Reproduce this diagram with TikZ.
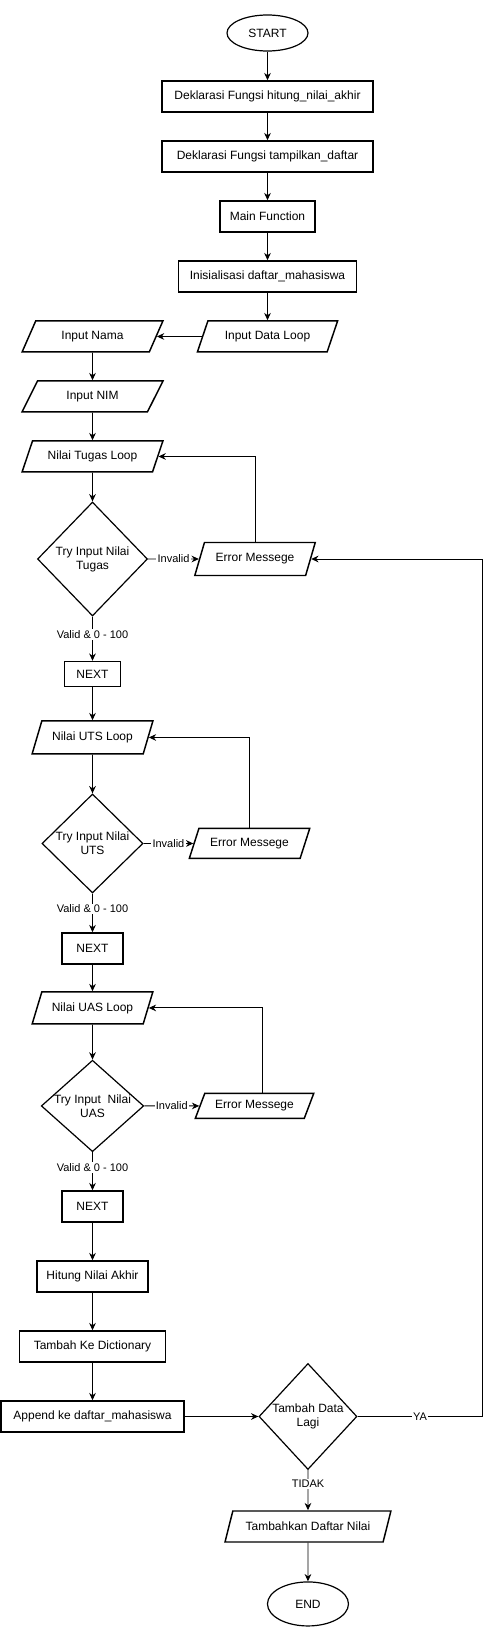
\documentclass[tikz,border=0pt]{standalone}
\usepackage{fontspec}
\setmainfont{Liberation Sans}
\usetikzlibrary{positioning,shapes.geometric,arrows.meta}
\tikzstyle{proc}=[draw, rectangle, line width=1.1pt, inner sep=2pt, minimum height=23.25pt, font=\fontsize{9}{11}\selectfont]
\tikzstyle{io}=[draw, trapezium, trapezium left angle=60, trapezium right angle=120, trapezium stretches=true, line width=1.1pt, inner sep=1pt, minimum height=23.25pt, font=\fontsize{9}{11}\selectfont]
\tikzstyle{cond}=[draw, diamond, line width=0.9pt, inner sep=0pt, align=center, font=\fontsize{9}{10.5}\selectfont]
\tikzstyle{term}=[draw, ellipse, line width=0.9pt, minimum width=60.75pt, minimum height=27pt, font=\fontsize{9}{11}\selectfont]
\tikzstyle{lab}=[fill=white, inner sep=1pt, font=\fontsize{8.25}{9}\selectfont]

\begin{document}
\begin{tikzpicture}[x=0.75pt,y=-0.75pt,>={Stealth[length=5.5pt,width=5pt]},line width=0.7pt]
\useasboundingbox (0,0) rectangle (491,1627);

\node[term] at (267.5,33) (start) {START};
\node[proc, below of = start, node distance = 47.6pt, minimum width=158.25pt] (dek1) {Deklarasi Fungsi hitung\_nilai\_akhir};
\node[proc, below of = dek1, node distance = 45pt, minimum width=158.25pt] (dek2) {Deklarasi Fungsi tampilkan\_daftar};
\node[proc, below of = dek2, node distance = 45pt, minimum width=71.25pt] (mainf) {Main Function};
\node[proc, below of = mainf, node distance = 45pt, minimum width=133.5pt] (init) {Inisialisasi daftar\_mahasiswa};
\node[io, below of = init, node distance = 45pt, minimum width=105.75pt] (dataloop) {Input Data Loop};

% input mahasiswa
\node[io, left of = dataloop, node distance = 131.25pt, minimum width=105.75pt] (nama) {Input Nama};
\node[io, below of = nama, node distance = 45pt, minimum width=105.75pt] (nim) {Input NIM};
\node[io, below of = nim, node distance = 45pt, minimum width=105.75pt] (tugas) {Nilai Tugas Loop};
\node[cond, below of = tugas, node distance = 76.9pt, minimum width=82.5pt, minimum height=85.5pt, shape aspect=0.96] (dtugas) {Try Input Nilai\\Tugas};
\node[proc, below of = dtugas, node distance = 86.25pt, minimum width=42pt, minimum height=18.75pt] (next1) {NEXT};
\node[io, below of = next1, node distance = 47.6pt, minimum width=90.75pt, minimum height=24.75pt] (uts) {Nilai UTS Loop};
\node[cond, below of = uts, node distance = 79.5pt, minimum width=75.75pt, minimum height=74.25pt, shape aspect=1.02] (duts) {Try Input Nilai\\UTS};
\node[proc, below of = duts, node distance = 78.75pt, minimum width=45.75pt] (next2) {NEXT};
\node[io, below of = next2, node distance = 44.6pt, minimum width=90.75pt, minimum height=24pt] (uas) {Nilai UAS Loop};
\node[cond, below of = uas, node distance = 73.5pt, minimum width=75.75pt, minimum height=67.5pt, shape aspect=1.12] (duas) {Try Input\ \ Nilai\\UAS};
\node[proc, below of = duas, node distance = 75.4pt, minimum width=45.75pt] (next3) {NEXT};
\node[proc, below of = next3, node distance = 52.5pt, minimum width=83.25pt] (hitung) {Hitung Nilai Akhir};
\node[proc, below of = hitung, node distance = 52.5pt, minimum width=109.5pt] (dict) {Tambah Ke Dictionary};
\node[proc, below of = dict, node distance = 52.5pt, minimum width=137.25pt] (append) {Append ke daftar\_mahasiswa};

% error
\node[io, right of = dtugas, node distance = 121.9pt, minimum width=90.75pt, minimum height=24.75pt] (err1) {Error Messege};
\node[io, right of = duts, node distance = 117.75pt, minimum width=90.75pt, minimum height=22.5pt] (err2) {Error Messege};
\node[io, right of = duas, node distance = 121.5pt, minimum width=89.25pt, minimum height=18.75pt] (err3) {Error Messege};

\node[cond, right of = append, node distance = 161.6pt, minimum width=73.5pt, minimum height=79.5pt, shape aspect=0.92] (lagi) {Tambah Data\\Lagi};
\node[io, below of = lagi, node distance = 82.5pt, minimum width=124.5pt] (daftar) {Tambahkan Daftar Nilai};
\node[term, below of = daftar, node distance = 58.1pt, minimum height=33pt] (stop) {END};

\draw[->] (start) -- (dek1);
\draw[->] (dek1) -- (dek2);
\draw[->] (dek2) -- (mainf);
\draw[->] (mainf) -- (init);
\draw[->] (init) -- (dataloop);
\draw[->] (dataloop) -- (nama);
\draw[->] (nama) -- (nim);
\draw[->] (nim) -- (tugas);
\draw[->] (tugas) -- (dtugas);
\draw[->] (dtugas) -- node[lab] {Invalid} (err1);
\draw[->] (err1.north) |- (tugas.east);
\draw[->] (dtugas) -- node[lab, pos=0.4] {Valid \& 0 - 100} (next1);
\draw[->] (next1) -- (uts);
\draw[->] (uts) -- (duts);
\draw[->] (duts) -- node[lab] {Invalid} (err2);
\draw[->] (err2.north) |- (uts.east);
\draw[->] (duts) -- node[lab, pos=0.4] {Valid \& 0 - 100} (next2);
\draw[->] (next2) -- (uas);
\draw[->] (uas) -- (duas);
\draw[->] (duas) -- node[lab] {Invalid} (err3);
\draw[->] ([xshift=5.6pt]err3.north) |- (uas.east);
\draw[->] (duas) -- node[lab, pos=0.4] {Valid \& 0 - 100} (next3);
\draw[->] (next3) -- (hitung);
\draw[->] (hitung) -- (dict);
\draw[->] (dict) -- (append);
\draw[->] (append) -- (lagi);
\draw[->] (lagi.east) -- node[lab] {YA} ++(125,0) |- (err1.east);
\draw[->] (lagi) -- node[lab, pos=0.35] {TIDAK} (daftar);
\draw[->] (daftar) -- (stop);
\end{tikzpicture}
\end{document}
